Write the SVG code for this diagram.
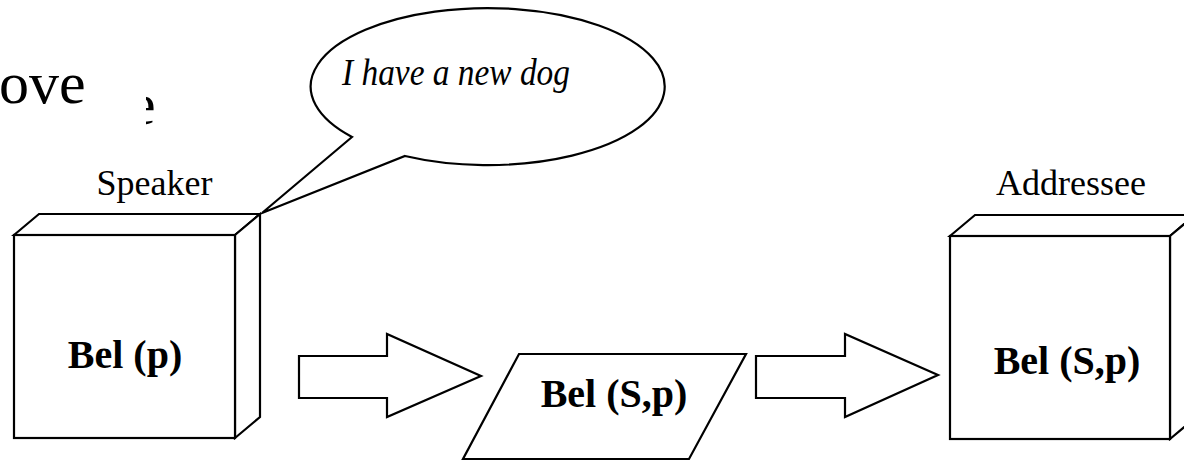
<svg xmlns="http://www.w3.org/2000/svg" width="1184" height="461" viewBox="0 0 1184 461">
  <style>
    .ln { fill: #fff; stroke: #000; stroke-width: 2.2; stroke-linejoin: miter; }
    .lbl { font-family: "Liberation Serif", "Times New Roman", serif; font-size: 36px; fill: #000; text-anchor: middle; }
    .bel { font-family: "Liberation Serif", "Times New Roman", serif; font-size: 40px; font-weight: bold; fill: #000; text-anchor: middle; }
    .say { font-family: "Liberation Serif", "Times New Roman", serif; font-size: 38px; font-style: italic; fill: #000; }
    .big { font-family: "Liberation Serif", "Times New Roman", serif; font-size: 60px; fill: #000; }
  </style>
  <defs>
    <clipPath id="eclip"><rect x="146" y="80" width="20" height="60"/></clipPath>
  </defs>
  <rect width="1184" height="461" fill="#fff"/>

  <g id="residual-text">
    <text class="big" x="-1" y="103">ove</text>
    <text class="big" x="129" y="124" clip-path="url(#eclip)">e</text>
  </g>

  <g id="speech-bubble">
    <path class="ln" d="M352,137 L262,213 L405,156 A177,78.5 0 1 0 352,137 Z"/>
    <text class="say" x="342" y="85" textLength="228" lengthAdjust="spacingAndGlyphs">I have a new dog</text>
  </g>

  <g id="speaker">
    <text class="lbl" x="154.5" y="195">Speaker</text>
    <path class="ln" d="M14,235 L39,214 L260,214 L235,235 Z"/>
    <path class="ln" d="M235,235 L260,214 L260,417 L235,438 Z"/>
    <rect class="ln" x="14" y="235" width="221" height="203"/>
    <text class="bel" x="125" y="368">Bel (p)</text>
  </g>

  <g id="message">
    <path class="ln" d="M519,354 L746,354 L689,459 L463,459 Z"/>
    <text class="bel" x="614" y="407">Bel (S,p)</text>
  </g>

  <g id="addressee">
    <text class="lbl" x="1071" y="195">Addressee</text>
    <path class="ln" d="M950,236 L975,215 L1195,215 L1170,236 Z"/>
    <path class="ln" d="M1170,236 L1195,215 L1195,418 L1170,439 Z"/>
    <rect class="ln" x="950" y="236" width="220" height="203"/>
    <text class="bel" x="1067" y="374">Bel (S,p)</text>
  </g>

  <g id="connectors">
    <path class="ln" d="M299,356 L387,356 L387,334 L481,376 L387,417 L387,398 L299,398 Z"/>
    <path class="ln" d="M756,356 L845,356 L845,334 L938,375 L845,417 L845,398 L756,398 Z"/>
  </g>
</svg>
